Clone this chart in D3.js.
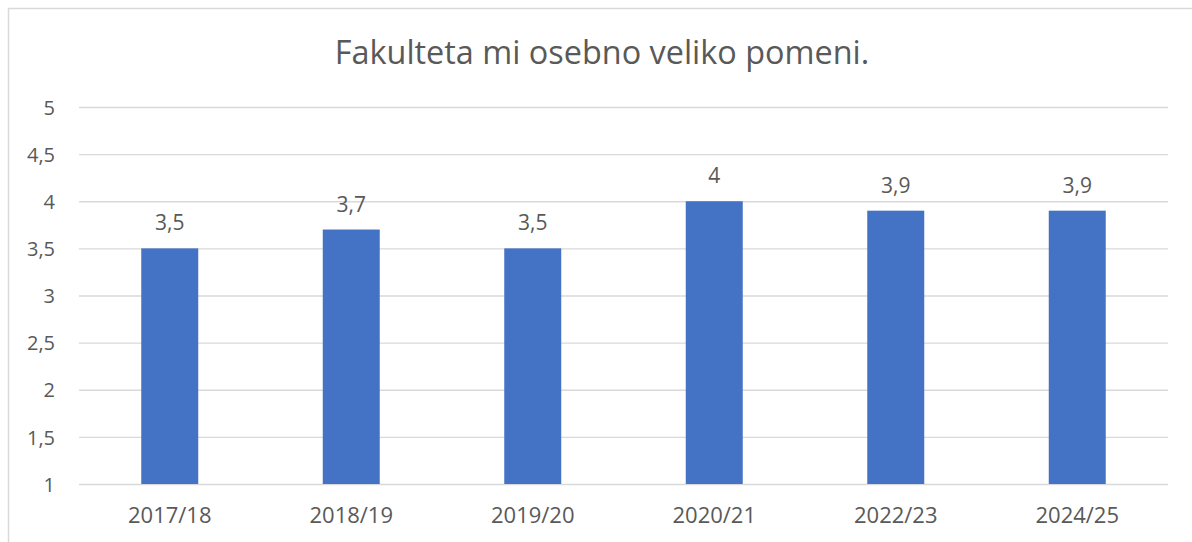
<html>
<head>
<script src="https://d3js.org/d3.v7.min.js"></script>
<style>
  body { margin: 0; background: #fff; }
  text { font-family: "Open Sans", sans-serif; fill: #595959; }
</style>
</head>
<body>
<script>
// data
var years = ["2017/18", "2018/19", "2019/20", "2020/21", "2022/23", "2024/25"];
var scores = [3.5, 3.7, 3.5, 4, 3.9, 3.9];
var yTicks = [1, 1.5, 2, 2.5, 3, 3.5, 4, 4.5, 5];
var title = "Fakulteta mi osebno veliko pomeni.";

var W = 1192, H = 542;
var margin = {top: 107, right: 24, bottom: 58, left: 79};
var width = W - margin.left - margin.right,
    height = H - margin.top - margin.bottom;

var svg = d3.select("body").append("svg")
    .attr("width", W)
    .attr("height", H);

// chart frame (cut off on the right and bottom)
svg.append("rect")
    .attr("x", 8.5).attr("y", 8.5)
    .attr("width", 1300).attr("height", 700)
    .attr("fill", "none")
    .attr("stroke", "#d9d9d9")
    .attr("stroke-width", 1.5);

var g = svg.append("g")
    .attr("transform", "translate(" + margin.left + "," + margin.top + ")");

var x = d3.scaleBand()
    .domain(years)
    .range([0, width])
    .paddingInner(0.686)
    .paddingOuter(0.343);

var y = d3.scaleLinear()
    .domain([1, 5])
    .range([height, 0]);

var fmt = function(d) { return String(d).replace(".", ","); };

// gridlines + y labels
var yAxis = g.append("g")
    .call(d3.axisLeft(y).tickValues(yTicks).tickSize(-width).tickFormat(fmt).tickPadding(24));
yAxis.select(".domain").remove();
yAxis.selectAll(".tick line").attr("stroke", "#d9d9d9").attr("stroke-width", 1.3);
yAxis.selectAll(".tick text")
    .style("font-size", "20px")
    .attr("dy", "0.36em");

// bars
g.selectAll(".bar")
    .data(scores)
    .enter()
    .append("rect")
    .attr("class", "bar")
    .attr("x", function(d, i) { return x(years[i]); })
    .attr("y", function(d) { return y(d); })
    .attr("width", x.bandwidth())
    .attr("height", function(d) { return y(1) - y(d); })
    .attr("fill", "#4472c4");

// value labels
g.selectAll(".val")
    .data(scores)
    .enter()
    .append("text")
    .attr("class", "val")
    .attr("x", function(d, i) { return x(years[i]) + x.bandwidth() / 2; })
    .attr("y", function(d) { return y(d) - 18; })
    .attr("text-anchor", "middle")
    .style("font-size", "21px")
    .text(fmt);

// x labels
var xAxis = g.append("g")
    .attr("transform", "translate(0," + height + ")")
    .call(d3.axisBottom(x).tickSize(0).tickPadding(0));
xAxis.select(".domain").remove();
xAxis.selectAll(".tick text")
    .attr("dy", null)
    .attr("y", 39)
    .style("font-size", "22px");

// title
svg.append("text")
    .attr("x", 602)
    .attr("y", 64)
    .attr("text-anchor", "middle")
    .style("font-size", "32.4px")
    .text(title);
</script>
</body>
</html>
